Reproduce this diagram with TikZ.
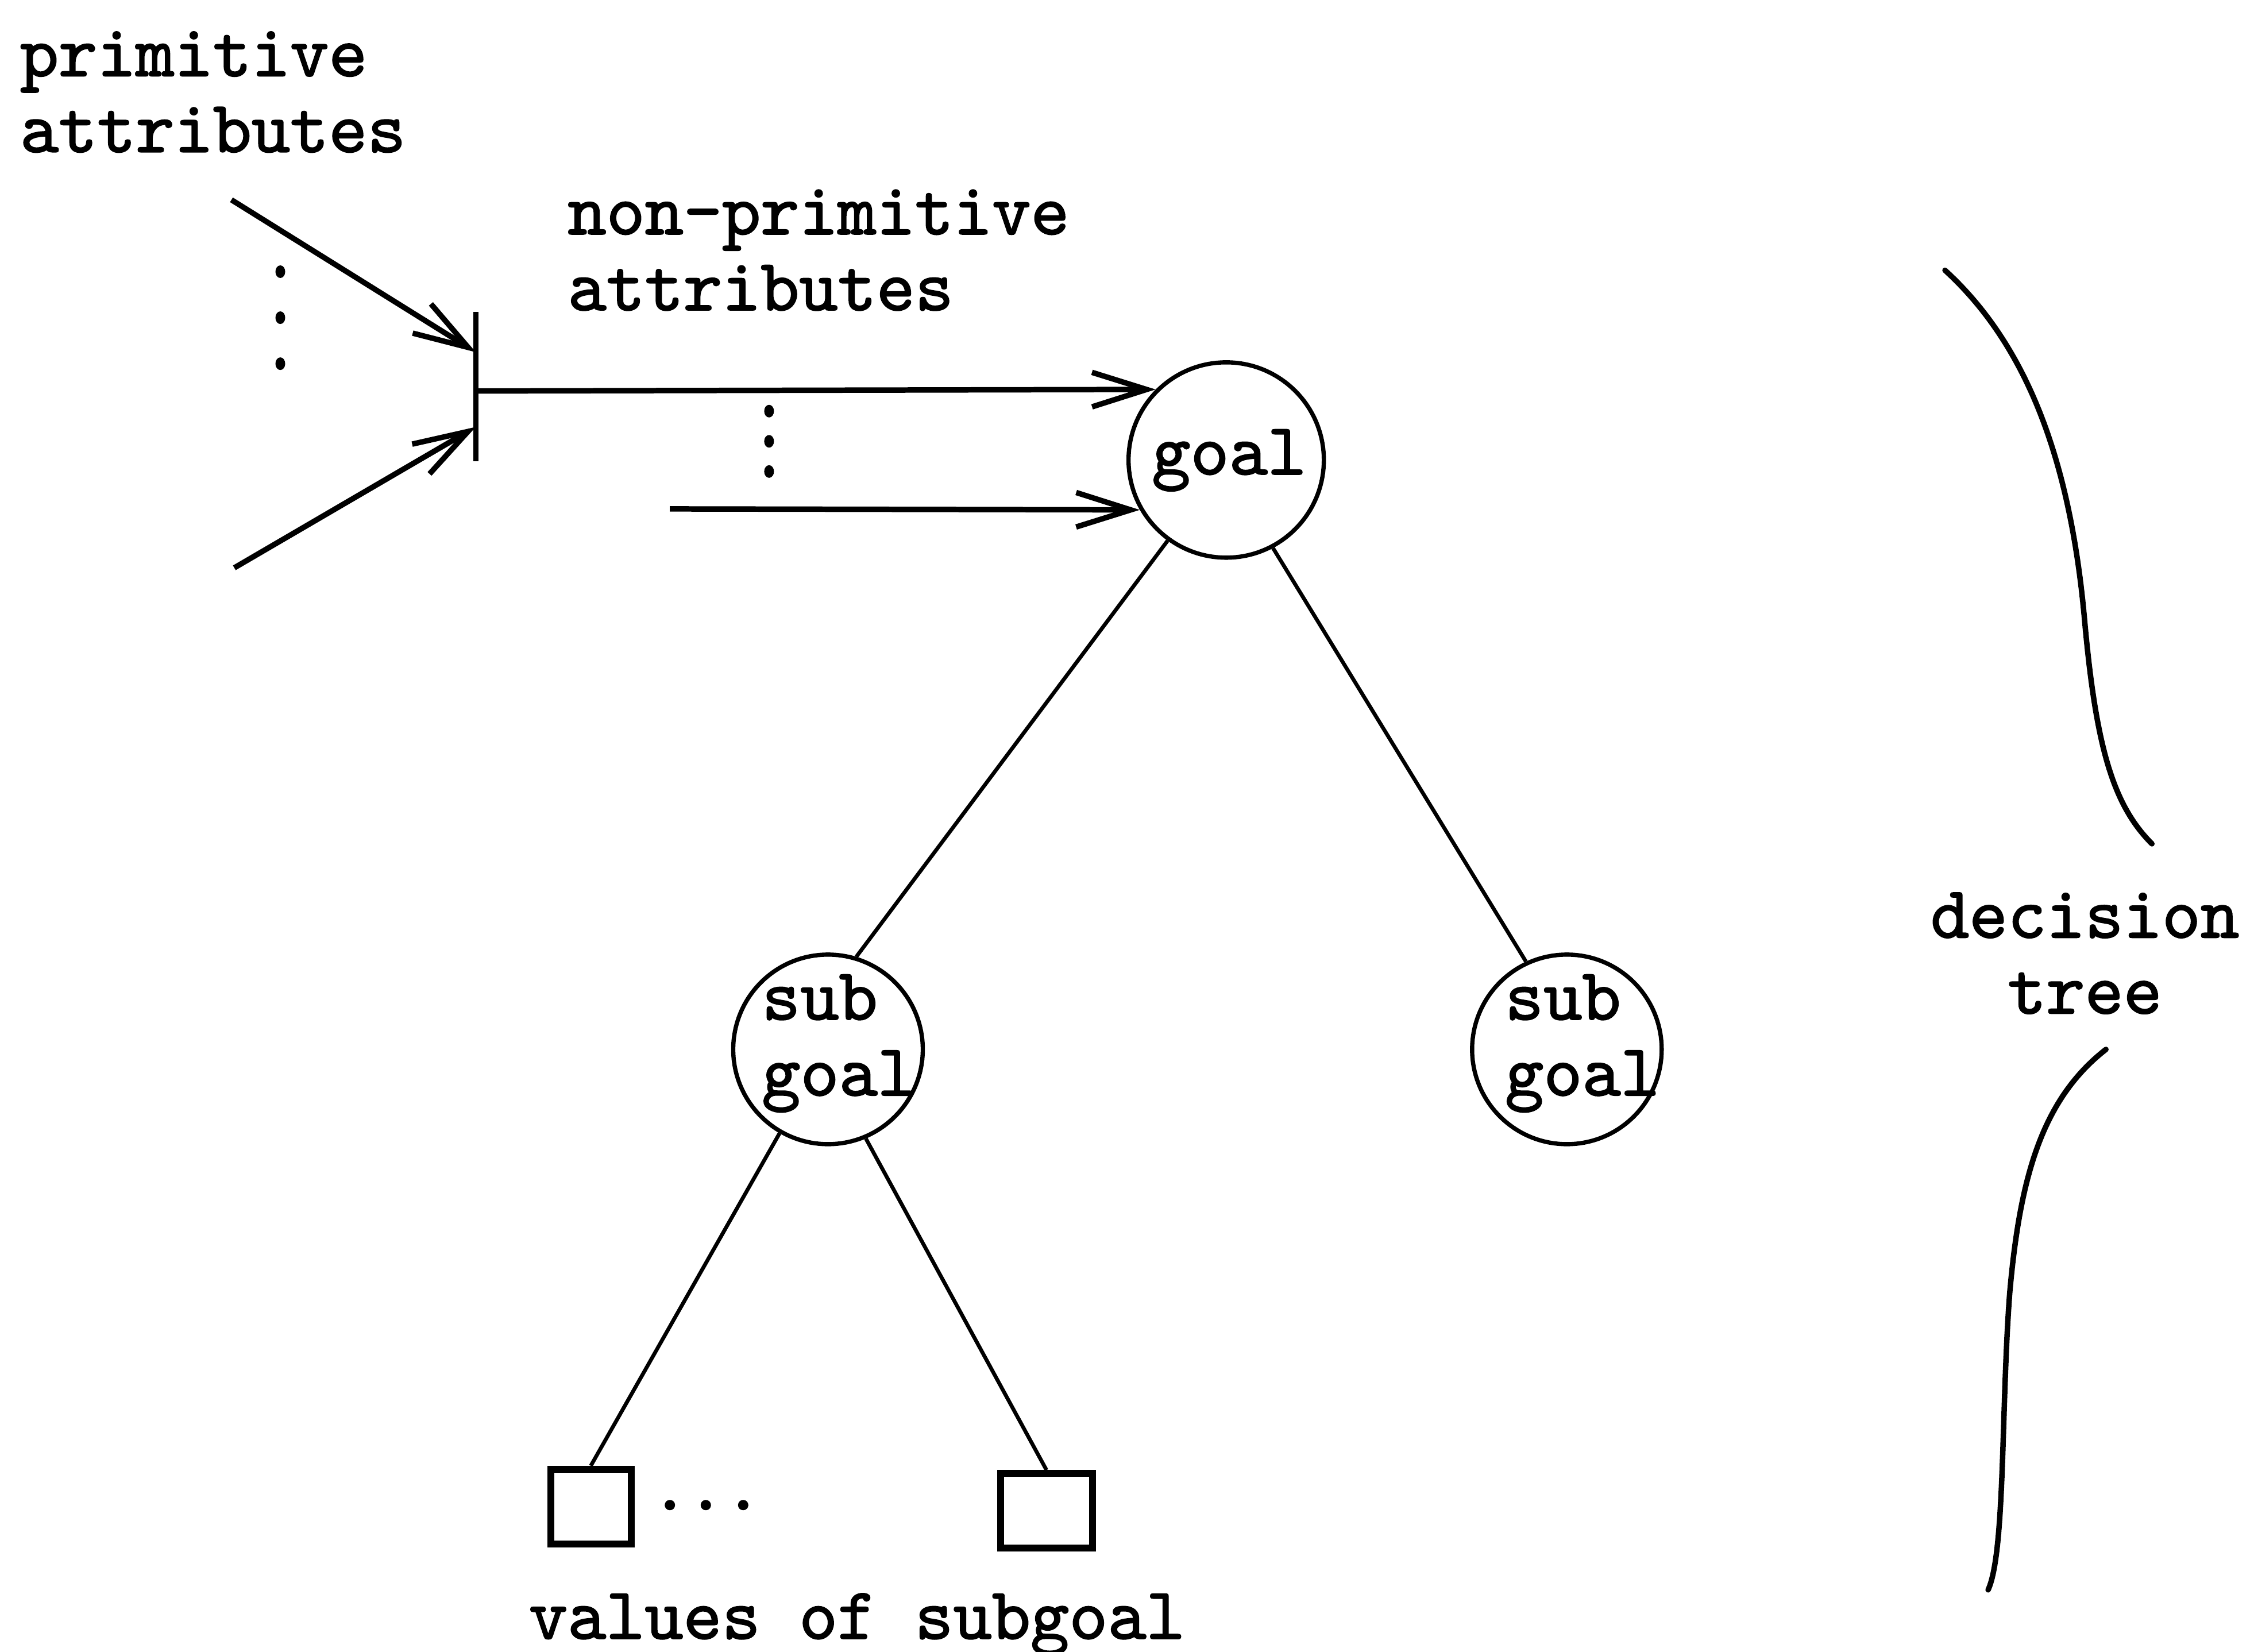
\documentclass[tikz,border=0pt]{standalone}
\usepackage{fontspec}
\newfontfamily\typewriter{lmmono10-regular.otf}[FakeBold=1.6]
\usetikzlibrary{arrows.meta}
\begin{document}
\begin{tikzpicture}[x=0.025026cm, y=-0.025026cm,
  txt/.style={font=\typewriter\fontsize{36.4}{37.6}\selectfont, inner sep=0pt, outer sep=0pt},
  goalnode/.style={draw, circle, line width=2.1pt, minimum size=3.4cm, inner sep=0pt},
  subnode/.style={draw, circle, line width=2.1pt, minimum size=3.3cm, inner sep=0pt},
  valuebox/.style={draw, rectangle, line width=3.4pt, minimum width=1.4cm, minimum height=1.3cm, inner sep=0pt},
  feed/.style={line width=2.7pt, -{Straight Barb[length=0.95cm,width=0.6cm]}},
  branch/.style={line width=1.9pt},
  bar/.style={line width=2.4pt},
  brace/.style={line width=2.7pt, line cap=round},
  dotmark/.style={fill=black}
]
\useasboundingbox (0,0) rectangle (1568,1149);

% attribute labels
\node[txt, anchor=north west, align=left] (primlbl) at (14,22) {primitive\\attributes};
\node[txt, anchor=north west, align=left] (nonprimlbl) at (395,132) {non-primitive\\attributes};

% junction bar collecting the primitive attributes
\coordinate (bartop) at (331,217);
\coordinate (barbot) at (331,321);
\draw[bar] (bartop) -- (barbot);
\coordinate (in1) at (331,245);
\coordinate (in2) at (331,297);
\coordinate (out) at (331,272);
\coordinate (src1) at (161,139);
\coordinate (src2) at (163,395);
\coordinate (src3) at (466,354);
\draw[feed] (src1) -- (in1);
\draw[feed] (src2) -- (in2);
\foreach \y in {189,221,253} \fill[dotmark] (195,\y) ellipse [x radius=0.085cm, y radius=0.11cm];

% goal node
\node[goalnode] (goal) at (853,320) {};
\node[txt, anchor=base] (goaltxt) at (855,330) {goal};
\draw[feed] (out) -- (goal.135);
\draw[feed] (src3) -- (goal.210);
\foreach \y in {286,307,328} \fill[dotmark] (535,\y) ellipse [x radius=0.085cm, y radius=0.11cm];

% subgoals
\node[subnode] (subL) at (576,730) {};
\node[txt, anchor=north west, align=left] (subLtxt) at (530,678) {sub\\goal};
\node[subnode] (subR) at (1090,730) {};
\node[txt, anchor=north west, align=left] (subRtxt) at (1047,678) {sub\\goal};
\draw[branch] (goal.234) -- (subL.73);
\draw[branch] (goal.298) -- (subR.115);

% values of the subgoal
\node[valuebox] (boxL) at (411,1048) {};
\node[valuebox, minimum width=1.6cm] (boxR) at (728,1051) {};
\draw[branch] (subL.240) -- (boxL.north);
\draw[branch] (subL.293) -- (boxR.north);
\foreach \x in {466,491,517} \fill[dotmark] (\x,1047) circle [radius=0.09cm];
\node[txt, anchor=base west] (vallbl) at (368,1140) {values of subgoal};

% brace around the decision tree
\draw[brace] (1353,188) .. controls (1410,240) and (1440,320) .. (1450,430)
  .. controls (1458,520) and (1470,560) .. (1497,587);
\draw[brace] (1465,730) .. controls (1420,765) and (1405,820) .. (1398,900)
  .. controls (1392,980) and (1395,1080) .. (1383,1106);
\node[txt, anchor=north west, align=center] (dtlbl) at (1343,621) {decision\\tree};
\end{tikzpicture}
\end{document}
